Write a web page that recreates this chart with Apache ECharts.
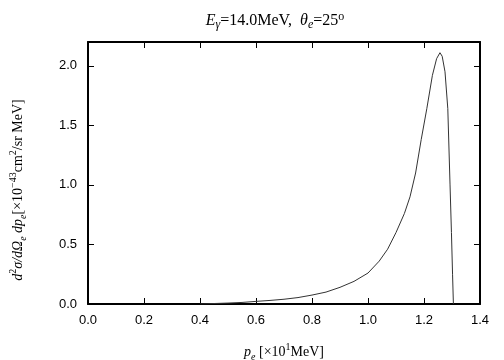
<!DOCTYPE html>
<html>
<head>
<meta charset="utf-8">
<script src="https://cdn.jsdelivr.net/npm/echarts@6/dist/echarts.min.js"></script>
<style>
  html, body { margin: 0; padding: 0; background: #fff; }
  #chart { width: 504px; height: 360px; }
</style>
</head>
<body>
<div id="chart"></div>
<script>
// momentum p_e [x10 MeV] and cross section [x10^-43 cm^2/sr MeV]
const pe = [0.40, 0.45, 0.50, 0.55, 0.60, 0.65, 0.70, 0.75, 0.80, 0.85, 0.90, 0.95, 1.00, 1.04, 1.07,
            1.10, 1.13, 1.15, 1.17, 1.19, 1.21, 1.23, 1.245, 1.257, 1.265, 1.275, 1.285, 1.293, 1.298, 1.302, 1.305];
const xsec = [0.0, 0.004, 0.008, 0.013, 0.022, 0.03, 0.04, 0.054, 0.075, 0.10, 0.14, 0.19, 0.26, 0.36, 0.46,
              0.60, 0.76, 0.90, 1.10, 1.38, 1.64, 1.92, 2.06, 2.11, 2.08, 1.95, 1.64, 1.00, 0.60, 0.25, 0.0];
const xTicks = [0, 1.4, 0.2];
const yTicks = [0, 2.2, 0.5];

const serif = 'Liberation Serif';
const sans = 'Liberation Sans';

function richSet(size) {
  return {
    n: { fontFamily: serif, fontSize: size, lineHeight: 20, verticalAlign: 'middle' },
    i: { fontFamily: serif, fontSize: size, fontStyle: 'italic', lineHeight: 20, verticalAlign: 'middle' },
    sub: { fontFamily: serif, fontSize: size - 4, fontStyle: 'italic', lineHeight: 20, verticalAlign: 'bottom' },
    sup: { fontFamily: serif, fontSize: size - 4, lineHeight: 20, verticalAlign: 'top' }
  };
}

const chart = echarts.init(document.getElementById('chart'));
const lineStyle = { color: '#000', width: 2 };
const tickStyle = { show: true, inside: true, length: 6, lineStyle: { color: '#000', width: 1 } };

chart.setOption({
  animation: false,
  title: {
    text: '{i|E}{sub|γ}{n|=14.0MeV,  }{i|θ}{sub|e}{n|=25}{sup|o}',
    left: 270,
    textAlign: 'center',
    top: 6,
    textStyle: { fontFamily: serif, fontSize: 16, fontWeight: 'normal', color: '#000', rich: richSet(16) }
  },
  grid: { left: 88, right: 24, top: 42, bottom: 56, outerBoundsMode: 'none', containLabel: false },
  xAxis: [{
    type: 'value', min: xTicks[0], max: xTicks[1], interval: xTicks[2],
    axisLine: { show: true, onZero: false, lineStyle },
    axisTick: tickStyle,
    splitLine: { show: false },
    axisLabel: { color: '#000', fontFamily: sans, fontSize: 13, margin: 10, formatter: v => v.toFixed(1) },
    name: '{i|p}{sub|e}{n| [×10}{sup|1}{n|MeV]}',
    nameLocation: 'middle', nameGap: 38,
    nameTextStyle: { fontFamily: serif, fontSize: 14, color: '#000', rich: richSet(14) }
  }, {
    type: 'value', position: 'top', min: xTicks[0], max: xTicks[1], interval: xTicks[2],
    axisLine: { show: true, onZero: false, lineStyle },
    axisTick: tickStyle,
    axisLabel: { show: false }, splitLine: { show: false }
  }],
  yAxis: [{
    type: 'value', min: yTicks[0], max: yTicks[1], interval: yTicks[2],
    axisLine: { show: true, onZero: false, lineStyle },
    axisTick: tickStyle,
    splitLine: { show: false },
    axisLabel: { color: '#000', fontFamily: sans, fontSize: 13, margin: 11, showMaxLabel: false, formatter: v => v.toFixed(1) },
    name: '{i|d}{sup|2}{i|σ/dΩ}{sub|e}{i| dp}{sub|e}{n|[×10}{sup|−43}{n|cm}{sup|2}{n|/sr MeV]}',
    nameLocation: 'middle', nameRotate: 90, nameGap: 60,
    nameTextStyle: { fontFamily: serif, fontSize: 14, color: '#000', padding: [0, 34, 0, 0], rich: richSet(14) }
  }, {
    type: 'value', position: 'right', min: yTicks[0], max: yTicks[1], interval: yTicks[2],
    axisLine: { show: true, onZero: false, lineStyle },
    axisTick: tickStyle,
    axisLabel: { show: false }, splitLine: { show: false }
  }],
  series: [{
    type: 'line',
    data: pe.map((p, i) => [p, xsec[i]]),
    showSymbol: false,
    smooth: false,
    lineStyle: { color: '#333', width: 1 }
  }]
});
</script>
</body>
</html>
